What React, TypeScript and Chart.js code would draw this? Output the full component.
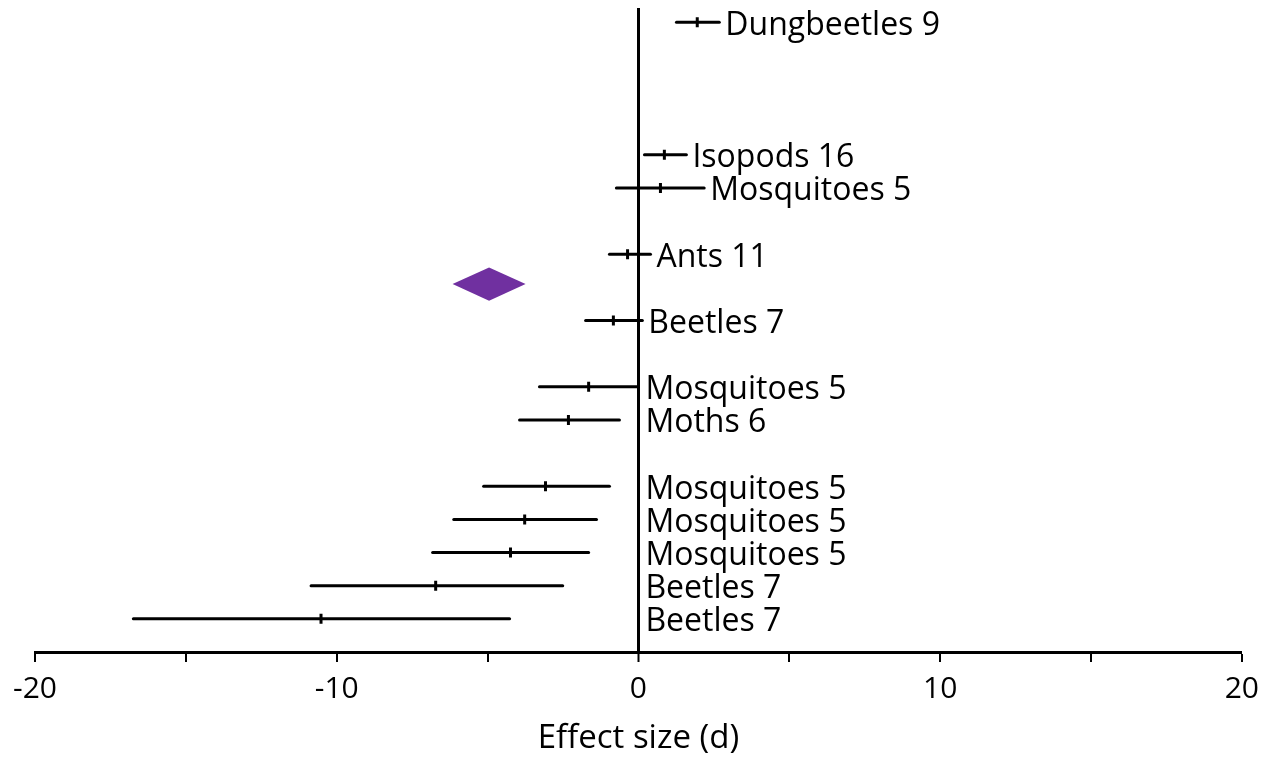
import React, { useEffect, useRef } from "react";
import { Chart, registerables } from "chart.js";

Chart.register(...registerables);

// Study rows (row index counted from bottom)
const studyLabels = [
  "Dungbeetles 9",
  "Isopods 16",
  "Mosquitoes 5",
  "Ants 11",
  "Beetles 7",
  "Mosquitoes 5",
  "Moths 6",
  "Mosquitoes 5",
  "Mosquitoes 5",
  "Mosquitoes 5",
  "Beetles 7",
  "Beetles 7",
];
const studyRows = [18, 14, 13, 11, 9, 7, 6, 4, 3, 2, 1, 0];
const studyMeans = [1.95, 0.86, 0.73, -0.36, -0.83, -1.65, -2.32, -3.08, -3.77, -4.24, -6.72, -10.52];
const studyLower = [1.26, 0.2, -0.73, -0.96, -1.75, -3.28, -3.94, -5.13, -6.12, -6.82, -10.85, -16.74];
const studyUpper = [2.68, 1.59, 2.18, 0.4, 0.13, -0.03, -0.63, -0.96, -1.39, -1.65, -2.51, -4.27];

// Summary (pooled) effect
const summaryMean = -4.95;
const summaryLower = -6.16;
const summaryUpper = -3.74;
const summaryRow = 10.1;

const xTicksMin = -20;
const xTicksMax = 20;
const xTickStep = 5;

const FONT = "'Open Sans', 'Noto Sans', sans-serif";

export default function App() {
  const canvasRef = useRef<HTMLCanvasElement | null>(null);

  useEffect(() => {
    const canvas = canvasRef.current;
    if (!canvas) return;

    const barDatasets = studyLabels.map((lab, i) => ({
      type: "line" as const,
      label: lab,
      data: [
        { x: studyLower[i], y: studyRows[i] },
        { x: studyUpper[i], y: studyRows[i] },
      ],
      borderColor: "#000",
      borderWidth: 3,
      borderCapStyle: "round" as const,
      pointRadius: 0,
      showLine: true,
      fill: false,
    }));

    const meansDataset = {
      type: "scatter" as const,
      label: "means",
      data: studyMeans.map((m, i) => ({ x: m, y: studyRows[i] })),
      pointStyle: "line" as const,
      rotation: 90,
      pointRadius: 5,
      borderColor: "#000",
      backgroundColor: "#000",
      borderWidth: 3,
    };

    const overlayPlugin = {
      id: "forestOverlay",
      afterDatasetsDraw(chart: any) {
        const { ctx, scales } = chart;
        const xs = scales.x;
        const ys = scales.y;
        // summary diamond
        const cy = ys.getPixelForValue(summaryRow);
        const half = Math.abs(ys.getPixelForValue(summaryRow + 0.5) - cy);
        ctx.save();
        ctx.fillStyle = "#7030A0";
        ctx.beginPath();
        ctx.moveTo(xs.getPixelForValue(summaryLower), cy);
        ctx.lineTo(xs.getPixelForValue(summaryMean), cy - half);
        ctx.lineTo(xs.getPixelForValue(summaryUpper), cy);
        ctx.lineTo(xs.getPixelForValue(summaryMean), cy + half);
        ctx.closePath();
        ctx.fill();
        // study labels
        ctx.fillStyle = "#000";
        ctx.font = `32px ${FONT}`;
        ctx.textAlign = "left";
        ctx.textBaseline = "alphabetic";
        studyLabels.forEach((lab, i) => {
          const endV = Math.max(studyUpper[i], 0);
          const gap = studyUpper[i] > 0 ? 6 : 7;
          const x = xs.getPixelForValue(endV) + gap;
          const y = ys.getPixelForValue(studyRows[i]) + 12.5;
          ctx.fillText(lab, x, y);
        });
        ctx.restore();
      },
    };

    const chart = new Chart(canvas, {
      type: "scatter",
      data: { datasets: [...barDatasets, meansDataset] as any },
      options: {
        animation: false,
        responsive: false,
        maintainAspectRatio: false,
        layout: { padding: { left: 35, right: 24, top: 8, bottom: 0 } },
        plugins: {
          legend: { display: false },
          tooltip: { enabled: false },
          title: { display: false },
        },
        scales: {
          x: {
            type: "linear",
            min: xTicksMin,
            max: xTicksMax,
            afterFit(scale: any) {
              scale.height = 105;
            },
            ticks: {
              stepSize: xTickStep,
              color: "#000",
              padding: 9,
              autoSkip: false,
              maxRotation: 0,
              font: { family: FONT, size: 30 },
              callback: (v: any) => (Number(v) % 10 === 0 ? String(v) : ""),
            },
            grid: {
              drawOnChartArea: true,
              drawTicks: true,
              tickLength: 10,
              tickColor: "#000",
              tickWidth: 2,
              color: (c: any) => (c.tick && c.tick.value === 0 ? "#000" : "rgba(0,0,0,0)"),
              lineWidth: (c: any) => (c.tick && c.tick.value === 0 ? 3 : 0),
            },
            border: { display: true, color: "#000", width: 3 },
            title: {
              display: true,
              text: "Effect size (d)",
              color: "#000",
              font: { family: FONT, size: 33, lineHeight: 1.1 },
              padding: { top: 0, bottom: 0 },
            },
          },
          y: {
            type: "linear",
            display: false,
            min: -1,
            max: 18.43,
          },
        },
      },
      plugins: [overlayPlugin],
    });

    return () => chart.destroy();
  }, []);

  return (
    <div style={{ position: "absolute", left: 0, top: 0, width: 1268, height: 757, background: "#fff" }}>
      <canvas ref={canvasRef} width={1268} height={757} style={{ display: "block" }} />
    </div>
  );
}
